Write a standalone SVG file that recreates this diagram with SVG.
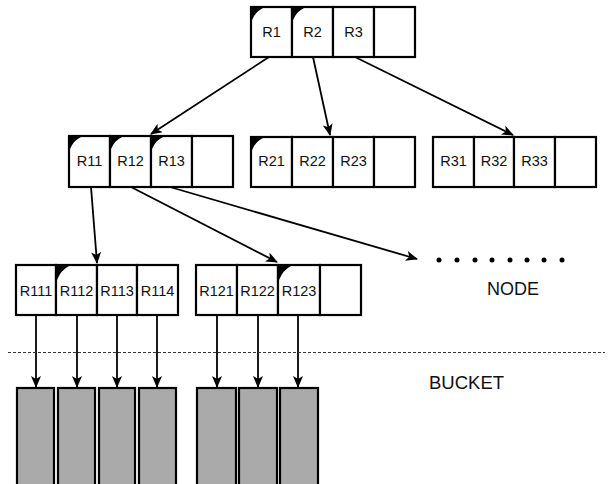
<svg xmlns="http://www.w3.org/2000/svg" width="615" height="484" viewBox="0 0 615 484">
<defs>
<marker id="ah" viewBox="0 0 12 10" refX="11" refY="5" markerWidth="13" markerHeight="10" markerUnits="userSpaceOnUse" orient="auto">
<path d="M0,0 L12,5 L0,10 L3,5 Z" fill="#000"/>
</marker>
</defs>
<style>
.cell{fill:#fff;stroke:#000;stroke-width:2.2}
.lbl{font-family:"Liberation Sans",Arial,sans-serif;font-size:14.5px;text-anchor:middle;fill:#111}
.tri{fill:#000}
.con{stroke:#000;stroke-width:1.8;fill:none}
.bk{fill:#aaaaaa;stroke:#000;stroke-width:2.2}
.cap{font-family:"Liberation Sans",Arial,sans-serif;fill:#111}
</style>
<rect width="615" height="484" fill="#fff"/>

<g id="node-root">
<rect class="cell" x="251" y="7" width="41" height="50"/>
<rect class="cell" x="292" y="7" width="41" height="50"/>
<rect class="cell" x="333" y="7" width="41" height="50"/>
<rect class="cell" x="374" y="7" width="41" height="50"/>
<path class="tri" d="M252,8 h11 q-7,3 -11,12 z"/>
<path class="tri" d="M293,8 h11 q-7,3 -11,12 z"/>
<text class="lbl" x="271.5" y="37">R1</text>
<text class="lbl" x="312.5" y="37">R2</text>
<text class="lbl" x="353.5" y="37">R3</text>
</g>

<g id="node-r1">
<rect class="cell" x="69" y="136" width="41" height="51"/>
<rect class="cell" x="110" y="136" width="41" height="51"/>
<rect class="cell" x="151" y="136" width="41" height="51"/>
<rect class="cell" x="192" y="136" width="41" height="51"/>
<path class="tri" d="M70,137 h11 q-7,3 -11,12 z"/>
<path class="tri" d="M111,137 h11 q-7,3 -11,12 z"/>
<path class="tri" d="M152,137 h11 q-7,3 -11,12 z"/>
<text class="lbl" x="89.5" y="166">R11</text>
<text class="lbl" x="130.5" y="166">R12</text>
<text class="lbl" x="171.5" y="166">R13</text>
</g>

<g id="node-r2">
<rect class="cell" x="251" y="137" width="41" height="50"/>
<rect class="cell" x="292" y="137" width="41" height="50"/>
<rect class="cell" x="333" y="137" width="41" height="50"/>
<rect class="cell" x="374" y="137" width="41" height="50"/>
<path class="tri" d="M252,138 h11 q-7,3 -11,12 z"/>
<text class="lbl" x="271.5" y="166">R21</text>
<text class="lbl" x="312.5" y="166">R22</text>
<text class="lbl" x="353.5" y="166">R23</text>
</g>

<g id="node-r3">
<rect class="cell" x="433" y="137" width="41" height="50"/>
<rect class="cell" x="474" y="137" width="40" height="50"/>
<rect class="cell" x="514" y="137" width="41" height="50"/>
<rect class="cell" x="555" y="137" width="41" height="50"/>
<text class="lbl" x="453.5" y="166">R31</text>
<text class="lbl" x="494" y="166">R32</text>
<text class="lbl" x="534.5" y="166">R33</text>
</g>

<g id="node-r11">
<rect class="cell" x="16" y="265" width="40" height="50"/>
<rect class="cell" x="56" y="265" width="41" height="50"/>
<rect class="cell" x="97" y="265" width="40" height="50"/>
<rect class="cell" x="137" y="265" width="41" height="50"/>
<path class="tri" d="M57,266 h12 q-8,4 -12,14 z"/>
<text class="lbl" x="36" y="296">R111</text>
<text class="lbl" x="76.5" y="296">R112</text>
<text class="lbl" x="117" y="296">R113</text>
<text class="lbl" x="157.5" y="296">R114</text>
</g>

<g id="node-r12">
<rect class="cell" x="196" y="265" width="41" height="50"/>
<rect class="cell" x="237" y="265" width="41" height="50"/>
<rect class="cell" x="278" y="265" width="42" height="50"/>
<rect class="cell" x="320" y="265" width="41" height="50"/>
<path class="tri" d="M279,266 h12 q-8,4 -12,14 z"/>
<text class="lbl" x="216.5" y="296">R121</text>
<text class="lbl" x="257.5" y="296">R122</text>
<text class="lbl" x="299" y="296">R123</text>
</g>

<g id="node-more">
<circle cx="439" cy="260" r="2.5"/>
<circle cx="457" cy="260" r="2.5"/>
<circle cx="475" cy="260" r="2.5"/>
<circle cx="492" cy="260" r="2.5"/>
<circle cx="510" cy="260" r="2.5"/>
<circle cx="527" cy="260" r="2.5"/>
<circle cx="544" cy="260" r="2.5"/>
<circle cx="562" cy="260" r="2.5"/>
</g>

<g id="buckets">
<rect class="bk" x="17" y="388" width="37" height="100"/>
<rect class="bk" x="58" y="388" width="37" height="100"/>
<rect class="bk" x="99" y="388" width="36" height="100"/>
<rect class="bk" x="139" y="388" width="37" height="100"/>
<rect class="bk" x="197" y="388" width="39" height="100"/>
<rect class="bk" x="239" y="388" width="38" height="100"/>
<rect class="bk" x="280" y="388" width="38" height="100"/>
</g>

<g id="connectors">
<line class="con" x1="269" y1="57" x2="151" y2="134" marker-end="url(#ah)"/>
<line class="con" x1="313" y1="57" x2="330" y2="135" marker-end="url(#ah)"/>
<line class="con" x1="355" y1="57" x2="513" y2="135" marker-end="url(#ah)"/>
<line class="con" x1="91" y1="187" x2="97" y2="263" marker-end="url(#ah)"/>
<line class="con" x1="131" y1="187" x2="277" y2="262" marker-end="url(#ah)"/>
<line class="con" x1="170" y1="187" x2="417" y2="259" marker-end="url(#ah)"/>
<line class="con" x1="36" y1="315" x2="36" y2="387" marker-end="url(#ah)"/>
<line class="con" x1="77" y1="315" x2="77" y2="387" marker-end="url(#ah)"/>
<line class="con" x1="117" y1="315" x2="117" y2="387" marker-end="url(#ah)"/>
<line class="con" x1="157" y1="315" x2="157" y2="387" marker-end="url(#ah)"/>
<line class="con" x1="217" y1="315" x2="217" y2="387" marker-end="url(#ah)"/>
<line class="con" x1="258" y1="315" x2="258" y2="387" marker-end="url(#ah)"/>
<line class="con" x1="298" y1="315" x2="298" y2="387" marker-end="url(#ah)"/>
</g>

<line x1="8" y1="352.5" x2="605" y2="352.5" stroke="#333" stroke-width="1.2" stroke-dasharray="3,2"/>
<text class="cap" x="487" y="295" font-size="18">NODE</text>
<text class="cap" x="429" y="389" font-size="18.5">BUCKET</text>
</svg>
